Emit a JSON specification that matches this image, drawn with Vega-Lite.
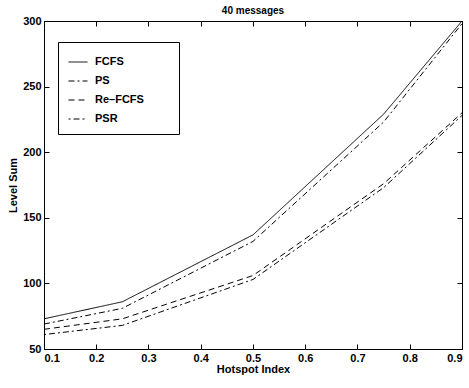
{
  "$schema": "https://vega.github.io/schema/vega-lite/v6.json",
  "autosize": {"type": "none"},
  "padding": {"left": 44, "top": 21, "right": 7, "bottom": 39},
  "width": 418,
  "height": 328,
  "background": "white",
  "title": {"text": "40 messages", "font": "Liberation Sans", "fontSize": 10, "fontWeight": "bold", "color": "black", "offset": -1},
  "config": {
    "view": {"stroke": "black", "strokeWidth": 1},
    "axis": {"labelFont": "Liberation Sans", "labelFontWeight": "bold", "labelFontSize": 11, "labelColor": "black", "titleFont": "Liberation Sans", "titleFontWeight": "bold", "titleFontSize": 11, "titleColor": "black", "domainColor": "black", "tickColor": "black", "grid": false, "tickSize": -5, "labelPadding": 8}
  },
  "data": {"values": [
    {"x": 0.1, "y": 73, "s": "FCFS"}, {"x": 0.25, "y": 86, "s": "FCFS"}, {"x": 0.5, "y": 137, "s": "FCFS"}, {"x": 0.75, "y": 229, "s": "FCFS"}, {"x": 0.9, "y": 300, "s": "FCFS"},
    {"x": 0.1, "y": 69, "s": "PS"}, {"x": 0.25, "y": 81, "s": "PS"}, {"x": 0.5, "y": 132, "s": "PS"}, {"x": 0.75, "y": 223, "s": "PS"}, {"x": 0.9, "y": 298, "s": "PS"},
    {"x": 0.1, "y": 65, "s": "Re\u2013FCFS"}, {"x": 0.25, "y": 73, "s": "Re\u2013FCFS"}, {"x": 0.5, "y": 106, "s": "Re\u2013FCFS"}, {"x": 0.75, "y": 176, "s": "Re\u2013FCFS"}, {"x": 0.9, "y": 230, "s": "Re\u2013FCFS"},
    {"x": 0.1, "y": 61, "s": "PSR"}, {"x": 0.25, "y": 68, "s": "PSR"}, {"x": 0.5, "y": 103, "s": "PSR"}, {"x": 0.75, "y": 173, "s": "PSR"}, {"x": 0.9, "y": 228, "s": "PSR"}
  ]},
  "layer": [
    {
      "mark": {"type": "line", "color": "black", "strokeWidth": 1, "clip": true},
      "encoding": {
        "x": {"field": "x", "type": "quantitative", "scale": {"domain": [0.1, 0.9], "nice": false, "zero": false}, "axis": {"title": "Hotspot Index", "values": [0.1,0.2,0.3,0.4,0.5,0.6,0.7,0.8,0.9], "format": ".1f", "titlePadding": 0}},
        "y": {"field": "y", "type": "quantitative", "scale": {"domain": [50, 300], "nice": false, "zero": false}, "axis": {"title": "Level Sum", "values": [50,100,150,200,250,300], "titlePadding": 4}},
        "strokeDash": {"field": "s", "type": "nominal", "scale": {"domain": ["FCFS", "PS", "Re\u2013FCFS", "PSR"], "range": [[1,0],[6,3,2,3],[6,4],[2,3,6,3]]},
          "legend": {"title": null, "orient": "none", "legendX": 14, "legendY": 21, "fillColor": "white", "strokeColor": "black", "padding": 10, "labelFont": "Liberation Sans", "labelFontWeight": "bold", "labelFontSize": 11, "labelColor": "black", "symbolType": "stroke", "symbolSize": 361, "symbolStrokeColor": "black", "symbolStrokeWidth": 1, "rowPadding": 4, "labelOffset": 7, "labelExpr": "datum.label + '\u00a0\u00a0\u00a0\u00a0\u00a0\u00a0\u00a0\u00a0\u200b'"}}
      }
    },
    {
      "mark": {"type": "line", "opacity": 0},
      "encoding": {
        "x": {"field": "x", "type": "quantitative", "scale": {"domain": [0.1, 0.9], "nice": false, "zero": false}, "axis": {"orient": "top", "title": null, "labels": false, "values": [0.1,0.2,0.3,0.4,0.5,0.6,0.7,0.8,0.9]}},
        "y": {"field": "y", "type": "quantitative", "scale": {"domain": [50, 300], "nice": false, "zero": false}, "axis": {"orient": "right", "title": null, "labels": false, "values": [50,100,150,200,250,300]}}
      }
    }
  ],
  "resolve": {"axis": {"x": "independent", "y": "independent"}}
}
